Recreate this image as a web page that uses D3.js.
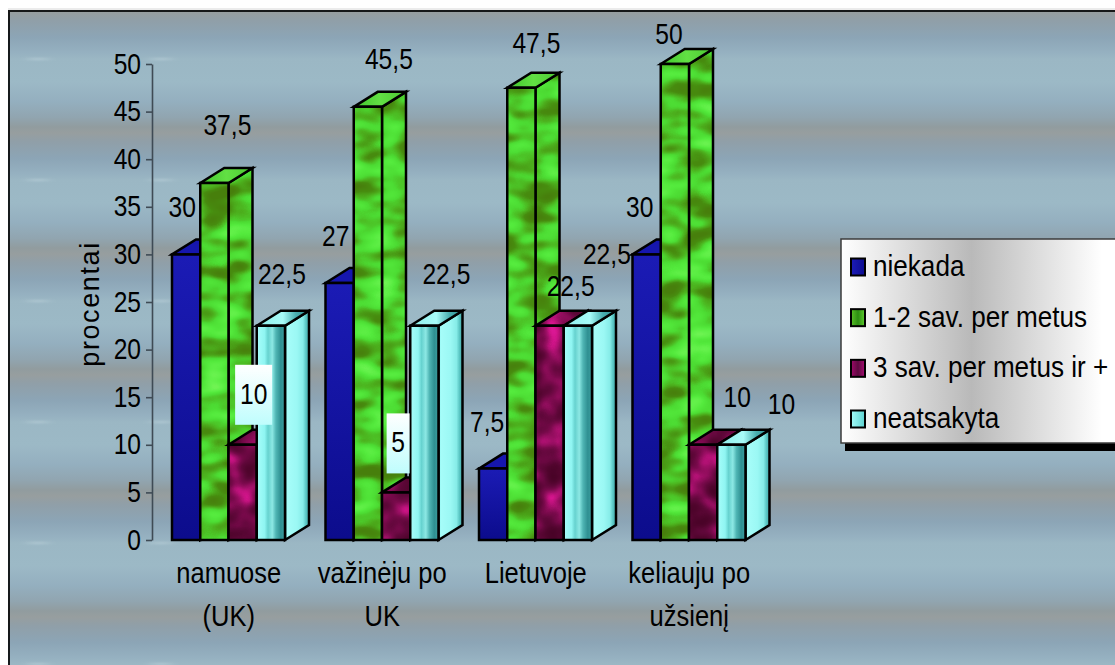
<!DOCTYPE html>
<html><head><meta charset="utf-8">
<script src="https://cdn.jsdelivr.net/npm/d3@7"></script>
<style>
html,body{margin:0;padding:0;background:#fff;overflow:hidden}
text{font-family:"Liberation Sans",Arial,sans-serif;fill:#000}
</style></head><body><svg id="c" width="1115" height="665"></svg>
<script>
const categories = [["namuose","(UK)"],["važinėju po","UK"],["Lietuvoje"],["keliauju po","užsienį"]];
const seriesNames = ["niekada","1-2 sav. per metus","3 sav. per metus ir +","neatsakyta"];
const niekada = [30,27,7.5,30];
const savPerMetus12 = [37.5,45.5,47.5,50];
const savPerMetus3 = [10,5,22.5,10];
const neatsakyta = [22.5,22.5,22.5,10];
const yTicks = [0,5,10,15,20,25,30,35,40,45,50];
const yTitle = "procentai";

// layout only: label displacement from each bar's top centre [dx,dy]
const labelShift = [
 [[-4,-46],[-4,-46],[-6,-46],[-7,-46]],
 [[13,-57],[21,-47],[15,-44],[-6,-29]],
 [[11,-50],[2,-49],[21,-39],[34,-47]],
 [[11,-51],[22,-51],[29,-71],[50,-40]]
];
const values = [niekada,savPerMetus12,savPerMetus3,neatsakyta];
const svg = d3.select("#c"), defs = svg.append("defs");
const grad = (id,stops,h=true)=>{const g=defs.append("linearGradient").attr("id",id)
  .attr("x1",0).attr("y1",0).attr("x2",h?1:0).attr("y2",h?0:1);
  stops.forEach(s=>g.append("stop").attr("offset",s[0]).attr("stop-color",s[1]));};
grad("bgG",[[0,"#979e9f"],[.07,"#909fa8"],[.21,"#8ca5b6"],[.33,"#95b0c0"],[.39,"#9bb7c4"],[.58,"#9cb9c6"],[.74,"#94afbf"],[.87,"#91a5b0"],[.95,"#919c9f"],[1,"#979e9f"]],false);
grad("cyanF",[[0,"#a8fdfa"],[.28,"#8ff5f2"],[.4,"#66d2cf"],[.55,"#8ce8e4"],[.68,"#4fb5b4"],[.85,"#2f9092"],[1,"#3d9fa0"]]);
grad("cyanS",[[0,"#7ff0ec"],[.1,"#a6fdf9"],[.5,"#9bf8f4"],[.75,"#86ece8"],[.88,"#58c4c2"],[1,"#46aaaa"]]);
grad("cyanT",[[0,"#8eeeea"],[.5,"#a8fbf8"],[.75,"#49aeb0"],[1,"#2f9092"]]);
grad("blueF",[[0,"#1b1bb5"],[1,"#0c0c8c"]],false);
grad("greenT",[[0,"#3fc42c"],[.5,"#62e044"],[1,"#4cc832"]]);
grad("legG",[[0,"#ffffff"],[.45,"#b9b9b9"],[.9,"#ffffff"],[1,"#ffffff"]]);
grad("boxG",[[0,"#ffffff"],[1,"#bffdfd"]],false);
const swatch=[["swB",[[0,"#1c1cb8"],[1,"#0c0c90"]]],["swG",[[0,"#59c126"],[.5,"#2c8d12"],[1,"#5fce2e"]]],["swM",[[0,"#a0086a"],[.5,"#5d0a40"],[1,"#a80c74"]]],["swC",[[0,"#a4fbf8"],[1,"#5cd2d0"]]]];
swatch.forEach(s=>grad(s[0],s[1]));

const tile=defs.append("pattern").attr("id","bgTile").attr("patternUnits","userSpaceOnUse")
  .attr("x",0).attr("y",12).attr("width",1115).attr("height",121);
tile.append("rect").attr("width",1115).attr("height",121).attr("fill","url(#bgG)");
const blur=defs.append("filter").attr("id","soft").attr("x","-50%").attr("y","-300%").attr("width","200%").attr("height","700%");
blur.append("feGaussianBlur").attr("stdDeviation","4 0.8");
tile.selectAll("ellipse").data([38,161]).join("ellipse")
  .attr("cx",d=>d).attr("cy",47).attr("rx",12).attr("ry",.8).attr("fill","#dfeef2").attr("opacity",.45).attr("filter","url(#soft)");

function texture(id,freq,seed,r,g,b){
  const f=defs.append("filter").attr("id",id).attr("x",0).attr("y",0).attr("width","100%").attr("height","100%")
    .attr("color-interpolation-filters","sRGB");
  f.append("feTurbulence").attr("type","fractalNoise").attr("baseFrequency",freq).attr("numOctaves",2).attr("seed",seed).attr("result","n");
  f.append("feColorMatrix").attr("in","n").attr("type","matrix")
    .attr("values","1 0 0 0 0  1 0 0 0 0  1 0 0 0 0  0 0 0 0 1").attr("result","m");
  const t=f.append("feComponentTransfer").attr("in","m").attr("result","c");
  t.append("feFuncR").attr("type","table").attr("tableValues",r);
  t.append("feFuncG").attr("type","table").attr("tableValues",g);
  t.append("feFuncB").attr("type","table").attr("tableValues",b);
  f.append("feComposite").attr("in","c").attr("in2","SourceAlpha").attr("operator","in");
}
texture("texG","0.025 0.05",4,
 ".28 .28 .28 .28 .3 .3 .33 .4 .55 .62",
 ".5 .5 .5 .55 .7 .86 .92 .95 .97 .98",
 ".05 .05 .05 .06 .12 .2 .24 .3 .4 .46");
texture("texM","0.035 0.04",9,
 ".26 .26 .28 .32 .38 .48 .62 .82 .94 .96",
 "0 0 .01 .02 .03 .04 .06 .08 .12 .14",
 ".13 .13 .15 .18 .23 .3 .4 .54 .68 .7");

// background
svg.append("rect").attr("x",8).attr("y",10).attr("width",1107).attr("height",655).attr("fill","url(#bgTile)");
svg.append("path").attr("d","M9 665V11H1115").attr("fill","none").attr("stroke","#000").attr("stroke-width",2).attr("stroke-opacity",.85);
svg.append("line").attr("x1",8).attr("x2",1115).attr("y1",9).attr("y2",9).attr("stroke","#d8d8d8");

// squeeze text horizontally to the narrow look of the original
const squeeze=(sel,k)=>sel.each(function(){const t=d3.select(this), px=+t.attr("x")||0, py=+t.attr("y")||0;
  t.attr("x",0).attr("y",0).attr("transform",`translate(${px},${py}) scale(${k},1)`);});
const FS=30, K=.82, DY=".3em";

const y=d3.scaleLinear().domain([0,50]).range([540,64]);
const x0=d3.scaleBand().domain(d3.range(categories.length)).range([152,766]);
const x1=d3.scaleBand().domain(d3.range(seriesNames.length)).range([20,133]);
const depthX=24, depthY=15;

// axis
const ax=svg.append("g").attr("transform","translate(152,0)").call(d3.axisLeft(y).tickValues(yTicks).tickSize(6).tickPadding(5).tickSizeOuter(0));
ax.selectAll("path,line").attr("stroke","#3f4b55").attr("stroke-width",1.6);
ax.selectAll("text").attr("font-size",FS).attr("font-family","Liberation Sans").attr("dy",DY).call(squeeze,K);

svg.append("text").attr("transform","translate(90,304) rotate(-90)").attr("text-anchor","middle").attr("dy",".35em")
  .attr("font-size",27).attr("letter-spacing",1.6).text(yTitle);

// bars
const sideFill=["#1717a6",null,null,"url(#cyanS)"], frontFill=["url(#blueF)",null,null,"url(#cyanF)"], topFill=["#1616ae","url(#greenT)",null,"url(#cyanT)"];
const texS=[null,"url(#texG)","url(#texM)",null], texT=[null,null,"url(#texM)",null];
const bars=[];
categories.forEach((c,i)=>seriesNames.forEach((s,j)=>bars.push({i,j,v:values[j][i]})));
const plot=svg.append("g");
function face(g,path,fill,filter){
  if(filter) g.append("path").attr("d",path).attr("fill","#000").attr("filter",filter);
  else g.append("path").attr("d",path).attr("fill",fill);
  g.append("path").attr("d",path).attr("fill","none").attr("stroke","#000").attr("stroke-width",2.5).attr("stroke-linejoin","miter");
}
bars.forEach(d=>{
  const g=plot.append("g");
  const l=x0(d.i)+x1(d.j), w=x1.bandwidth(), r=l+w, t=y(d.v), b=y(0);
  face(g,`M${r} ${b}L${r+depthX} ${b-depthY}V${t-depthY}L${r} ${t}Z`,sideFill[d.j],texS[d.j]);
  face(g,`M${l} ${t}L${l+depthX} ${t-depthY}H${r+depthX}L${r} ${t}Z`,topFill[d.j],texT[d.j]);
  face(g,`M${l} ${b}V${t}H${r}V${b}Z`,frontFill[d.j],texS[d.j]);
});

// value labels
const fmt=v=>String(v).replace(".",",");
bars.forEach(d=>{
  const cx=x0(d.i)+x1(d.j)+x1.bandwidth()/2+labelShift[d.j][d.i][0], cy=y(d.v)+labelShift[d.j][d.i][1];
  if(d.j===2 && d.i<2){
    const bw=d.v>=10?37:23;
    svg.append("rect").attr("x",cx-bw/2).attr("y",cy-30).attr("width",bw).attr("height",60).attr("fill","url(#boxG)");
  }
  svg.append("text").attr("x",cx).attr("y",cy).attr("dy",DY).attr("text-anchor","middle").attr("font-size",FS).text(fmt(d.v)).call(squeeze,K);
});

// category labels
categories.forEach((c,i)=>c.forEach((line,k)=>{
  svg.append("text").attr("x",x0(i)+x0.bandwidth()/2).attr("y",574+k*43).attr("dy",DY).attr("text-anchor","middle")
    .attr("font-size",FS).text(line).call(squeeze,.85);
}));

// legend
svg.append("rect").attr("x",845).attr("y",443).attr("width",270).attr("height",8).attr("fill","#000");
svg.append("rect").attr("x",841).attr("y",239).attr("width",290).attr("height",204).attr("fill","url(#legG)").attr("stroke","#3c3c3c").attr("stroke-width",1.5);
const legY=d3.scalePoint().domain(seriesNames).range([267,419]);
seriesNames.forEach((s,j)=>{
  svg.append("rect").attr("x",851).attr("y",legY(s)-8.5).attr("width",14).attr("height",17)
    .attr("fill",`url(#${swatch[j][0]})`).attr("stroke","#000").attr("stroke-width",2);
  svg.append("text").attr("x",873).attr("y",legY(s)).attr("dy",DY).attr("font-size",FS).text(s).call(squeeze,.87);
});
</script></body></html>
